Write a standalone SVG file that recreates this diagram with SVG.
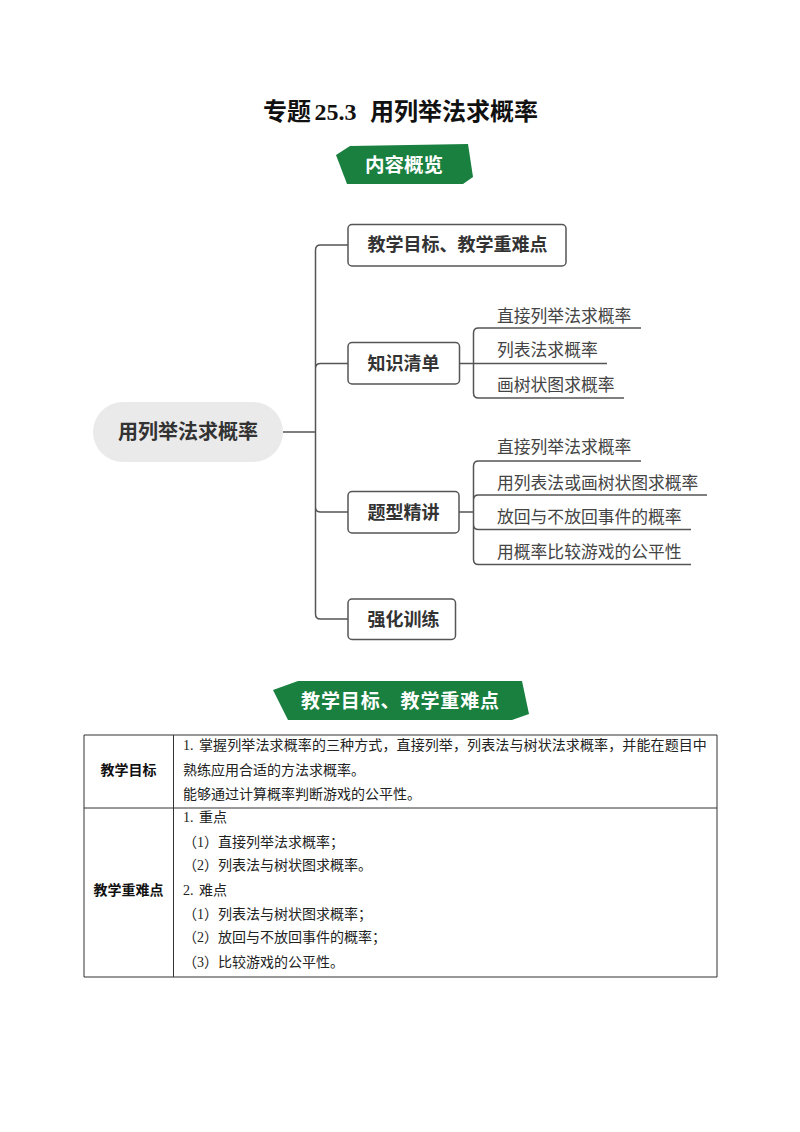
<svg xmlns="http://www.w3.org/2000/svg" width="800" height="1132" viewBox="0 0 800 1132">
<style>
text{font-family:"Liberation Serif","Noto Sans CJK SC",serif;}
.title{font-size:24px;font-weight:700;fill:#111;}
.cjk{font-family:"Noto Sans CJK SC",sans-serif;}
.badge{fill:#1a8040;}
.bt{font-family:"Noto Sans CJK SC",sans-serif;font-weight:700;fill:#fff;text-anchor:middle;}
.box{fill:#fff;stroke:#555;stroke-width:1.5;}
.nt{font-family:"Noto Sans CJK SC",sans-serif;font-size:18px;font-weight:700;fill:#333;}
.sub{font-family:"Noto Sans CJK SC",sans-serif;font-size:16.8px;fill:#444;}
.con{fill:none;stroke:#555;stroke-width:1.5;}
.tl{fill:none;stroke:#333;stroke-width:1;}
.tt{font-size:14px;fill:#222;}
.tb{font-family:"Noto Sans CJK SC",sans-serif;font-size:14px;font-weight:700;fill:#111;text-anchor:middle;}
</style>
<rect width="800" height="1132" fill="#fff"/>
<g id="title">
<text class="title cjk" x="263" y="120">专题</text>
<text class="title" x="314.500" y="120">25.3</text>
<text class="title cjk" x="370" y="120">用列举法求概率</text>
</g>
<g id="badge-overview">
<polygon class="badge" points="336,155 350,146 468,144 473,177 463,184 347,184"/>
<text class="bt" x="404" y="171.500" font-size="19.500">内容概览</text>
</g>
<g id="connectors">
<path class="con" d="M283 432H315.500M348 245H320.500Q315.500 245 315.500 250V614Q315.500 619 320.500 619H348M348 363.500H320.500Q315.500 363.500 315.500 368.500M315.500 507Q315.500 512 320.500 512H348"/>
<path class="con" d="M459.500 363.500H473.500M641 328H478.500Q473.500 328 473.500 333V393Q473.500 398 478.500 398H624M473.500 363.500H607"/>
<path class="con" d="M459 512H473.500M641 461H478.500Q473.500 461 473.500 466V559.500Q473.500 564.500 478.500 564.500H691M707 495H478.500Q473.500 495 473.500 500M473.500 524.500Q473.500 529.500 478.500 529.500H691"/>
</g>
<g id="node-root">
<rect x="93" y="402" width="190" height="60" rx="30" fill="#eaeaea"/>
<text class="cjk" x="118" y="439" font-size="20" font-weight="700" fill="#333">用列举法求概率</text>
</g>
<g id="node-goals"><rect class="box" x="348" y="224.500" width="218" height="41.500" rx="4"/><text class="nt" x="367.500" y="251">教学目标、教学重难点</text></g>
<g id="node-knowledge"><rect class="box" x="348" y="342.500" width="111.500" height="41.500" rx="4"/><text class="nt" x="367.500" y="369.500">知识清单</text></g>
<g id="node-types"><rect class="box" x="348" y="491.500" width="111" height="41.500" rx="4"/><text class="nt" x="367.500" y="518.500">题型精讲</text></g>
<g id="node-training"><rect class="box" x="348" y="599" width="107.500" height="40.500" rx="4"/><text class="nt" x="367.500" y="625.500">强化训练</text></g>
<g id="leaf-k1"><text class="sub" x="497" y="321.500">直接列举法求概率</text></g>
<g id="leaf-k2"><text class="sub" x="497" y="355.500">列表法求概率</text></g>
<g id="leaf-k3"><text class="sub" x="497" y="390.500">画树状图求概率</text></g>
<g id="leaf-t1"><text class="sub" x="497" y="452.500">直接列举法求概率</text></g>
<g id="leaf-t2"><text class="sub" x="497" y="488.500">用列表法或画树状图求概率</text></g>
<g id="leaf-t3"><text class="sub" x="497" y="522.500">放回与不放回事件的概率</text></g>
<g id="leaf-t4"><text class="sub" x="497" y="557.500">用概率比较游戏的公平性</text></g>
<g id="badge-goals">
<polygon class="badge" points="273,690 298,681 522,681 529,714 512,720 288,720"/>
<text class="bt" x="400.500" y="707.500" font-size="19" letter-spacing="0.900">教学目标、教学重难点</text>
</g>
<g id="table">
<path class="tl" d="M84 735H717V977H84ZM173.500 735V977M84 808H717"/>
<text class="tb" x="128.500" y="775">教学目标</text>
<text class="tb" x="128.500" y="895">教学重难点</text>
<g class="tt">
<text x="183" y="749.500">1.</text><text x="199" y="749.500" letter-spacing="0.110">掌握列举法求概率的三种方式，直接列举，列表法与树状法求概率，并能在题目中</text>
<text x="183" y="775">熟练应用合适的方法求概率。</text>
<text x="183" y="799">能够通过计算概率判断游戏的公平性。</text>
<text x="183" y="822">1.</text><text x="199" y="822">重点</text>
<text x="183" y="847">（1）直接列举法求概率；</text>
<text x="183" y="870">（2）列表法与树状图求概率。</text>
<text x="183" y="895">2.</text><text x="199" y="895">难点</text>
<text x="183" y="919">（1）列表法与树状图求概率；</text>
<text x="183" y="942">（2）放回与不放回事件的概率；</text>
<text x="183" y="967">（3）比较游戏的公平性。</text>
</g>
</g>
</svg>
